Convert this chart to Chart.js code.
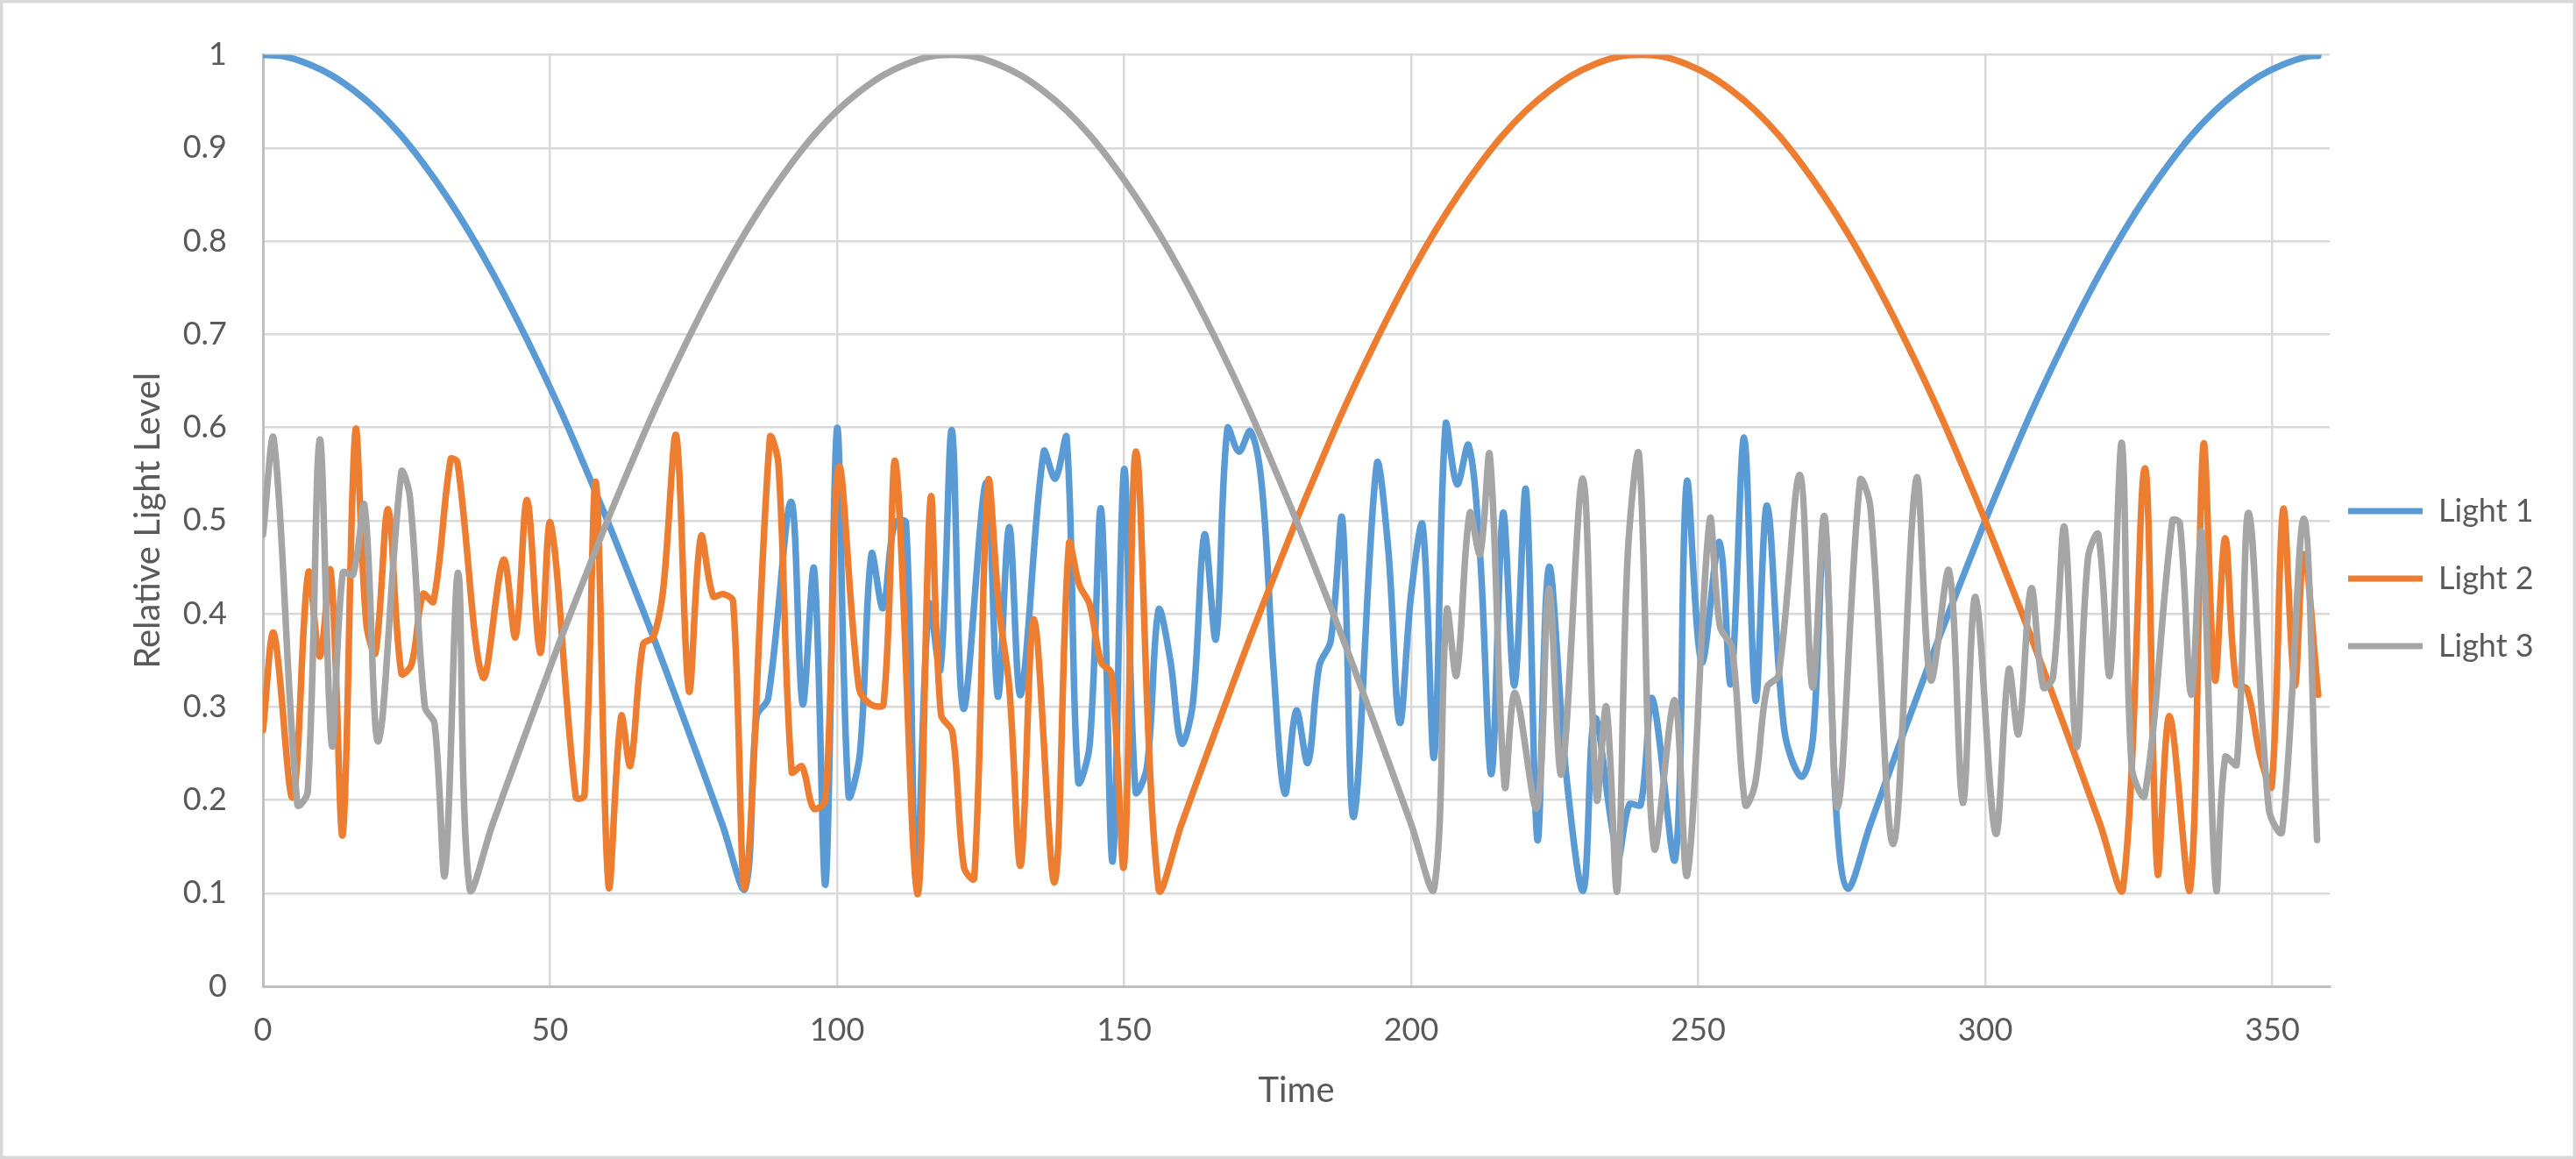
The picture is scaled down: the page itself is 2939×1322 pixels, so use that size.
<!DOCTYPE html>
<html>
<head>
<meta charset="utf-8">
<script src="https://cdn.jsdelivr.net/npm/chart.js@4.4.1/dist/chart.umd.min.js"></script>
<style>
html,body{margin:0;padding:0;background:#ffffff;overflow:hidden;}
canvas{display:block;}
</style>
</head>
<body>
<canvas id="c" width="2939" height="1322" style="width:2939px;height:1322px"></canvas>
<script>
// ---------- data ----------
const seriesNames = ['Light 1', 'Light 2', 'Light 3'];
const xTickLabels = ['0', '50', '100', '150', '200', '250', '300', '350'];
const yTickLabels = ['0', '0.1', '0.2', '0.3', '0.4', '0.5', '0.6', '0.7', '0.8', '0.9', '1'];
const xAxisTitle = 'Time';
const yAxisTitle = 'Relative Light Level';

// [time, level]
const light1Points = [
  [0,1.000],[4,0.998],[8,0.990],[12,0.978],[16,0.961],[20,0.940],[24,0.914],[28,0.883],[32,0.848],[36,0.809],
  [40,0.766],[44,0.719],[48,0.669],[52,0.616],[56,0.559],[60,0.500],[64,0.438],[68,0.375],[72,0.309],[76,0.242],
  [80,0.174],[84,0.105],
  [86,0.29],[88,0.309],[92,0.52],[94,0.303],[96,0.448],[98,0.11],[100,0.599],[102,0.205],[104,0.251],[106,0.464],
  [108,0.406],[110,0.497],[112,0.498],[113.8,0.11],[116,0.41],[118,0.34],[120,0.597],[122,0.298],[126,0.541],[128,0.311],
  [130,0.493],[132,0.313],[136,0.574],[138,0.545],[140,0.589],[142,0.22],[144,0.259],[146,0.512],[148,0.134],[150,0.555],
  [152,0.209],[154,0.236],[156,0.404],[158,0.352],[160,0.261],[162,0.305],[164,0.485],[166,0.373],[168,0.599],[170,0.574],
  [172,0.596],[174,0.537],[176,0.344],[178,0.207],[180,0.296],[182,0.24],[184,0.344],[186,0.371],[188,0.502],[190,0.182],
  [194,0.56],[196,0.47],[198,0.283],[200,0.421],[202,0.495],[204,0.246],[206,0.603],[208,0.539],[210,0.581],[212,0.464],
  [214,0.228],[216,0.508],[218,0.323],[220,0.533],[222,0.157],[224,0.45],[227,0.228],[230,0.103],[232,0.288],[236,0.14],
  [238,0.195],[240,0.195],[242,0.309],[246,0.137],[248,0.541],[250.6,0.348],[253.7,0.477],[255.7,0.325],[258,0.589],[260,0.307],
  [262,0.516],[265,0.275],[268,0.225],[270,0.267],[272,0.504],[274,0.192],
  [276,0.105],[280,0.174],[284,0.242],[288,0.309],[292,0.375],[296,0.438],[300,0.500],[304,0.559],[308,0.616],[312,0.669],
  [316,0.719],[320,0.766],[324,0.809],[328,0.848],[332,0.883],[336,0.914],[340,0.940],[344,0.961],[348,0.978],[352,0.990],
  [356,0.998],[358,0.999]
];

const light2Points = [
  [0,0.275],[1.9,0.379],[5.2,0.203],[7.9,0.444],[9.9,0.354],[11.8,0.446],[13.9,0.163],[16.1,0.596],[18.0,0.39],[19.6,0.358],
  [21.8,0.512],[24.1,0.336],[25.9,0.346],[27.9,0.421],[29.7,0.413],[32.7,0.566],[33.9,0.562],[38.3,0.332],[41.9,0.458],[44.0,0.375],
  [46.0,0.522],[48.3,0.358],[50.1,0.497],[54.5,0.203],[56.0,0.205],[58.0,0.541],[60.2,0.108],[62.4,0.29],[64.0,0.237],[66.2,0.367],
  [68.0,0.375],[69.7,0.425],[72.0,0.591],[74.2,0.317],[76.3,0.483],[78.4,0.419],[80.2,0.421],[81.9,0.413],[84.0,0.107],[88.3,0.589],
  [89.8,0.56],[92.1,0.23],[93.9,0.236],[95.9,0.191],[98.0,0.201],[100.3,0.557],[103.8,0.321],[105.8,0.303],[108.1,0.303],[110.2,0.562],
  [114.0,0.099],[116.3,0.524],[118.1,0.292],[120.1,0.273],[122.1,0.128],[123.9,0.116],[126.3,0.541],[128.2,0.406],[130.0,0.321],[132.0,0.13],
  [134.3,0.394],[137.9,0.112],[140.4,0.475],[142.2,0.431],[144.0,0.41],[146.0,0.348],[147.8,0.336],[150.0,0.13],[152.1,0.574],
  [156,0.105],[160,0.174],[164,0.242],[168,0.309],[172,0.375],[176,0.438],[180,0.500],[184,0.559],[188,0.616],[192,0.669],
  [196,0.719],[200,0.766],[204,0.809],[208,0.848],[212,0.883],[216,0.914],[220,0.940],[224,0.961],[228,0.978],[232,0.990],
  [236,0.998],[240,1.000],[244,0.998],[248,0.990],[252,0.978],[256,0.961],[260,0.940],[264,0.914],[268,0.883],[272,0.848],
  [276,0.809],[280,0.766],[284,0.719],[288,0.669],[292,0.616],[296,0.559],[300,0.500],[304,0.438],[308,0.375],[312,0.309],
  [316,0.242],[320,0.174],[324,0.105],
  [327.8,0.556],[330.0,0.122],[332.1,0.29],[335.7,0.105],[338.0,0.581],[340.0,0.329],[341.8,0.481],[343.7,0.325],[345.6,0.319],[347.9,0.247],
  [349.9,0.215],[351.9,0.512],[353.9,0.323],[355.5,0.464],[358.0,0.313]
];

const light3Points = [
  [0,0.485],[1.9,0.587],[6.0,0.195],[7.8,0.209],[9.9,0.587],[12.0,0.259],[13.9,0.444],[15.7,0.442],[17.7,0.516],[20.1,0.263],
  [24.1,0.552],[25.6,0.525],[28.2,0.300],[29.9,0.282],[31.7,0.12],[34.0,0.444],
  [36,0.105],[40,0.174],[44,0.242],[48,0.309],[52,0.375],[56,0.438],[60,0.500],[64,0.559],[68,0.616],[72,0.669],
  [76,0.719],[80,0.766],[84,0.809],[88,0.848],[92,0.883],[96,0.914],[100,0.940],[104,0.961],[108,0.978],[112,0.990],
  [116,0.998],[120,1.000],[124,0.998],[128,0.990],[132,0.978],[136,0.961],[140,0.940],[144,0.914],[148,0.883],[152,0.848],
  [156,0.809],[160,0.766],[164,0.719],[168,0.669],[172,0.616],[176,0.559],[180,0.500],[184,0.438],[188,0.375],[192,0.309],
  [196,0.242],[200,0.174],[204,0.105],
  [206.2,0.404],[207.9,0.334],[210.2,0.508],[212.0,0.464],[213.7,0.57],[216.3,0.215],[218.1,0.315],[221.9,0.192],[224.0,0.427],[226.2,0.228],
  [229.9,0.545],[232.3,0.201],[234.0,0.3],[235.9,0.103],[237.7,0.46],[239.7,0.57],[242.3,0.149],[245.9,0.307],[248.1,0.12],[252.0,0.5],
  [253.8,0.386],[255.9,0.363],[258.2,0.195],[259.9,0.217],[262.0,0.321],[264.0,0.334],[267.7,0.549],[269.9,0.321],[272.0,0.504],[274.3,0.192],
  [278.2,0.543],[280.0,0.514],[284.0,0.153],[288.0,0.545],[290.5,0.329],[293.7,0.446],[296.1,0.197],[298.3,0.418],[301.8,0.164],[304.1,0.34],
  [305.8,0.271],[308.0,0.427],[310.1,0.321],[311.8,0.332],[313.8,0.493],[315.9,0.257],[317.9,0.46],[319.7,0.485],[321.7,0.334],[323.8,0.583],
  [325.5,0.236],[327.8,0.205],[332.6,0.5],[333.9,0.497],[335.9,0.313],[337.7,0.487],[340.2,0.105],[341.8,0.246],[343.8,0.238],[345.9,0.508],
  [349.4,0.19],[351.7,0.166],[355.5,0.502],[357.8,0.157]
];

// ---------- styling / layout ----------
const seriesColors = ['#5B9BD5', '#ED7D31', '#A5A5A5'];
const TEXT_COLOR = '#595959';
const GRID_COLOR = '#D9D9D9';
const AXIS_COLOR = '#BFBFBF';
const W = 2939, H = 1322;
const AREA = { left: 300, right: 2658, top: 62, bottom: 1125 };
const TICK_FONT = 36, LEGEND_FONT = 36, TITLE_FONT = 40;
const LEGEND_STEP = 77, LEGEND_BOX_X = 2679, LEGEND_FIRST_Y = 583;

Chart.defaults.font.family = 'Lato, "Open Sans", "Liberation Sans", sans-serif';
Chart.defaults.color = TEXT_COLOR;

const toXY = pts => pts.map(p => ({ x: p[0], y: p[1] }));
const seriesPoints = [light1Points, light2Points, light3Points];

const legendShift = {
  id: 'legendShift',
  afterLayout(chart) {
    const lg = chart.legend;
    if (!lg) return;
    const P = lg.options.labels.padding;
    const dx = (lg.left + P) - LEGEND_BOX_X;
    lg.left -= dx; lg.right -= dx;
    const colH = (lg.columnSizes && lg.columnSizes[0]) ? lg.columnSizes[0].height : 3 * LEGEND_STEP;
    const yStart = (lg.top + P + lg.bottom - colH) / 2;
    const dy = yStart + LEGEND_FONT / 2 - LEGEND_FIRST_Y;
    lg.top -= dy; lg.bottom -= dy;
  }
};

const frame = {
  id: 'frame',
  beforeDraw(chart) {
    const ctx = chart.ctx;
    ctx.save();
    ctx.fillStyle = '#ffffff';
    ctx.fillRect(0, 0, chart.width, chart.height);
    ctx.restore();
  },
  afterDraw(chart) {
    const ctx = chart.ctx;
    ctx.save();
    ctx.strokeStyle = GRID_COLOR;
    ctx.lineWidth = 3.5;
    ctx.strokeRect(1.75, 1.75, chart.width - 3.5, chart.height - 3.5);
    ctx.restore();
  }
};

const chart = new Chart(document.getElementById('c'), {
  type: 'line',
  data: {
    datasets: seriesNames.map((name, i) => ({
      label: name,
      data: toXY(seriesPoints[i]),
      borderColor: seriesColors[i],
      backgroundColor: seriesColors[i],
      borderWidth: 7.5,
      pointRadius: 0,
      pointHoverRadius: 0,
      tension: 0.35,
      fill: false,
      borderCapStyle: 'round',
      borderJoinStyle: 'round',
      order: 3 - i
    }))
  },
  options: {
    responsive: false,
    maintainAspectRatio: false,
    devicePixelRatio: 1,
    animation: false,
    events: [],
    layout: { padding: { left: 0, right: 30, top: AREA.top, bottom: 0 } },
    plugins: {
      tooltip: { enabled: false },
      legend: {
        position: 'right',
        align: 'center',
        labels: {
          font: { size: LEGEND_FONT },
          color: TEXT_COLOR,
          boxWidth: 85,
          boxHeight: 7,
          padding: LEGEND_STEP - LEGEND_FONT,
          sort: (a, b) => a.datasetIndex - b.datasetIndex,
          generateLabels(ch) {
            const items = Chart.defaults.plugins.legend.labels.generateLabels(ch);
            items.forEach(it => {
              it.fillStyle = seriesColors[it.datasetIndex];
              it.strokeStyle = seriesColors[it.datasetIndex];
              it.lineWidth = 0;
            });
            return items;
          }
        }
      }
    },
    scales: {
      x: {
        type: 'linear',
        min: 0,
        max: 360,
        afterFit(scale) { scale.height = H - AREA.bottom; },
        ticks: {
          stepSize: 50,
          includeBounds: false,
          font: { size: TICK_FONT },
          color: TEXT_COLOR,
          padding: 29,
          maxRotation: 0,
          autoSkip: false,
          callback: v => xTickLabels[Math.round(v / 50)]
        },
        grid: { color: GRID_COLOR, lineWidth: 2.5, drawTicks: false },
        border: { display: true, color: AXIS_COLOR, width: 3 },
        title: {
          display: true,
          text: xAxisTitle,
          font: { size: TITLE_FONT },
          color: TEXT_COLOR,
          padding: { top: 0, bottom: 54 }
        }
      },
      y: {
        type: 'linear',
        min: 0,
        max: 1,
        afterFit(scale) { scale.width = AREA.left; },
        ticks: {
          stepSize: 0.1,
          font: { size: TICK_FONT },
          color: TEXT_COLOR,
          padding: 41,
          autoSkip: false,
          callback: v => yTickLabels[Math.round(v * 10)]
        },
        grid: { color: GRID_COLOR, lineWidth: 2.5, drawTicks: false },
        border: { display: true, color: AXIS_COLOR, width: 3 },
        title: {
          display: true,
          text: yAxisTitle,
          font: { size: TITLE_FONT },
          color: TEXT_COLOR,
          padding: { top: 145, bottom: 0 }
        }
      }
    }
  },
  plugins: [legendShift, frame]
});

// pin the right edge of the plot area
const dRight = chart.chartArea.right - AREA.right;
if (Math.abs(dRight) > 0.5) {
  chart.options.layout.padding.right += dRight;
  chart.update();
}
</script>
</body>
</html>
